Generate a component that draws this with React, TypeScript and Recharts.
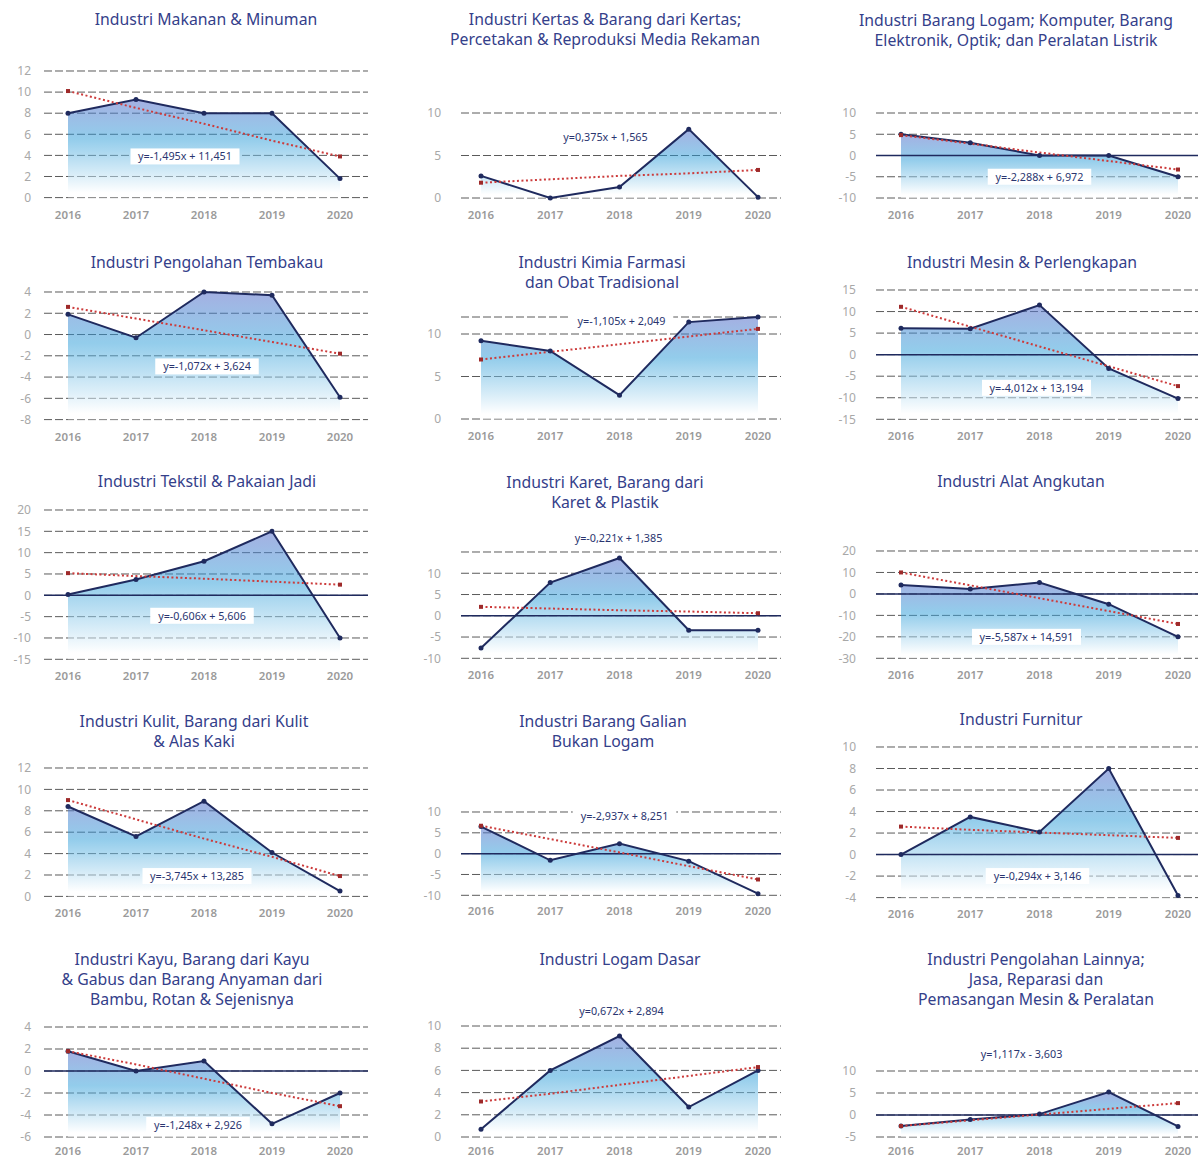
import React from 'react';
import { ComposedChart, Area, Line, XAxis, YAxis, CartesianGrid, ReferenceLine, ReferenceDot } from 'recharts';

const years = ['2016', '2017', '2018', '2019', '2020'];

const titles = [
  ['Industri Makanan & Minuman'],
  ['Industri Kertas & Barang dari Kertas;', 'Percetakan & Reproduksi Media Rekaman'],
  ['Industri Barang Logam; Komputer, Barang', 'Elektronik, Optik; dan Peralatan Listrik'],
  ['Industri Pengolahan Tembakau'],
  ['Industri Kimia Farmasi', 'dan Obat Tradisional'],
  ['Industri Mesin & Perlengkapan'],
  ['Industri Tekstil & Pakaian Jadi'],
  ['Industri Karet, Barang dari', 'Karet & Plastik'],
  ['Industri Alat Angkutan'],
  ['Industri Kulit, Barang dari Kulit', '& Alas Kaki'],
  ['Industri Barang Galian', 'Bukan Logam'],
  ['Industri Furnitur'],
  ['Industri Kayu, Barang dari Kayu', '& Gabus dan Barang Anyaman dari', 'Bambu, Rotan & Sejenisnya'],
  ['Industri Logam Dasar'],
  ['Industri Pengolahan Lainnya;', 'Jasa, Reparasi dan', 'Pemasangan Mesin & Peralatan'],
];

// pertumbuhan per tahun (%)
const growth = [
  [8, 9.3, 8, 8, 1.8],
  [2.6, 0, 1.3, 8.1, 0.1],
  [5, 3, 0, 0, -5],
  [1.9, -0.3, 4, 3.7, -5.9],
  [9.2, 8, 2.8, 11.4, 12],
  [6.1, 6, 11.5, -3.2, -10.2],
  [0.2, 3.7, 8, 15, -10],
  [-7.6, 7.8, 13.6, -3.4, -3.4],
  [4.2, 2.3, 5.3, -4.8, -20],
  [8.4, 5.6, 8.9, 4.1, 0.5],
  [6.5, -1.6, 2.4, -1.8, -9.6],
  [0, 3.5, 2.1, 8, -3.8],
  [1.8, 0, 0.9, -4.8, -2],
  [0.7, 6, 9.1, 2.7, 6],
  [-2.5, -1, 0.2, 5.2, -2.6],
];

// garis tren linear (titik)
const trends = [
  [10.1, 8.5, 7, 5.4, 3.9],
  [1.8, 2.2, 2.6, 2.9, 3.3],
  [4.8, 2.8, 0.7, -1.3, -3.3],
  [2.6, 1.5, 0.4, -0.7, -1.8],
  [7, 7.9, 8.8, 9.7, 10.6],
  [11.1, 6.5, 1.9, -2.7, -7.3],
  [5.2, 4.5, 3.9, 3.2, 2.5],
  [2.1, 1.7, 1.3, 1, 0.6],
  [10, 4, -2, -8, -14],
  [9, 7.2, 5.4, 3.7, 1.9],
  [6.7, 3.5, 0.3, -3, -6.2],
  [2.6, 2.3, 2.05, 1.8, 1.55],
  [1.8, 0.6, -0.7, -2, -3.2],
  [3.2, 3.9, 4.7, 5.5, 6.3],
  [-2.5, -1.2, 0.1, 1.4, 2.7],
];

const equations = [
  'y=-1,495x + 11,451',
  'y=0,375x + 1,565',
  'y=-2,288x + 6,972',
  'y=-1,072x + 3,624',
  'y=-1,105x + 2,049',
  'y=-4,012x + 13,194',
  'y=-0,606x + 5,606',
  'y=-0,221x + 1,385',
  'y=-5,587x + 14,591',
  'y=-3,745x + 13,285',
  'y=-2,937x + 8,251',
  'y=-0,294x + 3,146',
  'y=-1,248x + 2,926',
  'y=0,672x + 2,894',
  'y=1,117x - 3,603',
];

// letak label persamaan (kategori + nilai)
const equationAt = [
  { x: '2018', y: 3.9 }, { x: '2018', y: 7.2 }, { x: '2018', y: -5 },
  { x: '2018', y: -3 }, { x: '2018', y: 11.5 }, { x: '2018', y: -7.7 },
  { x: '2018', y: -4.8 }, { x: '2018', y: 18.2 }, { x: '2018', y: -20 },
  { x: '2018', y: 1.9 }, { x: '2018', y: 9 }, { x: '2018', y: -2 },
  { x: '2018', y: -4.9 }, { x: '2018', y: 11.3 }, { x: '2018', y: 13.9 },
];

const domains = [
  [0, 12], [0, 10], [-10, 10],
  [-8, 4], [0, 12], [-15, 15],
  [-15, 20], [-10, 15], [-30, 20],
  [0, 12], [-10, 10], [-4, 10],
  [-6, 4], [0, 10], [-5, 10],
];

const yTicks = [
  [0, 2, 4, 6, 8, 10, 12], [0, 5, 10], [-10, -5, 0, 5, 10],
  [-8, -6, -4, -2, 0, 2, 4], [0, 5, 10], [-15, -10, -5, 0, 5, 10, 15],
  [-15, -10, -5, 0, 5, 10, 15, 20], [-10, -5, 0, 5, 10], [-30, -20, -10, 0, 10, 20],
  [0, 2, 4, 6, 8, 10, 12], [-10, -5, 0, 5, 10], [-4, -2, 0, 2, 4, 6, 8, 10],
  [-6, -4, -2, 0, 2, 4], [0, 2, 4, 6, 8, 10], [-5, 0, 5, 10],
];

const zeroLine = [false, false, true, false, false, true, true, true, true, false, true, true, true, false, true];

// layout (px)
const columns = [
  { gridLeft: 44, gridRight: 368, padL: 24, padR: 28, tickMargin: 7 },
  { gridLeft: 461, gridRight: 781, padL: 20, padR: 23, tickMargin: 14 },
  { gridLeft: 876, gridRight: 1198, padL: 25, padR: 20, tickMargin: 14 },
];
const plotBox = [
  [70.7, 197.3], [113.3, 198.3], [113.3, 198.3],
  [291.7, 419.3], [317.3, 419.3], [290, 419.3],
  [510, 659.3], [552, 658.3], [551, 658.3],
  [768.3, 896.7], [811.7, 895], [746.7, 897.3],
  [1027, 1137], [1026, 1137], [1071, 1137],
];
const titleX = [206, 605, 1016, 207, 602, 1022, 207, 605, 1021, 194, 603, 1021, 192, 620, 1036];
const titleY = [20, 20, 21, 263, 263, 263, 482, 483, 482, 722, 722, 720, 960, 960, 960];
const eqDx = [-19, -14, 0, 3, 2, -3, -2, -1, -13, -7, 5, -2, -6, 2, -18];
const xTickGap = [7, 7, 7, 6, 4];

const NAVY = '#1f2a5e';
const FONT = "'Noto Sans', sans-serif";

const EqLabel = (props: any) => {
  const { cx, cy, text, dx } = props;
  const w = text.length * 5.5 + 10;
  return (
    <g>
      <rect x={cx + dx - w / 2} y={cy - 8} width={w} height={16} fill="#ffffff" />
      <text x={cx + dx} y={cy} dy="0.35em" textAnchor="middle" fontSize={10.8} fill="#2a3570" fontFamily={FONT}>{text}</text>
    </g>
  );
};

const trendDot = (props: any) => {
  const { cx, cy, index } = props;
  if (index === 0 || index === years.length - 1) {
    return <rect key={`td-${index}`} x={cx - 2} y={cy - 2} width={4} height={4} fill="#9e2a2a" />;
  }
  return <g key={`td-${index}`} />;
};

const Panel = ({ i }: { i: number }) => {
  const c = columns[i % 3];
  const row = Math.floor(i / 3);
  const [top, bottom] = plotBox[i];
  const data = years.map((year, k) => ({ year, value: growth[i][k], trend: trends[i][k] }));
  const marginTop = 40;
  const axisH = 26;
  const yW = 40;
  const width = c.gridRight - c.gridLeft + yW;
  const height = bottom - top + marginTop + axisH;
  const gid = `fill-${i}`;

  return (
    <>
      <div style={{ position: 'absolute', left: titleX[i] - 200, width: 400, top: titleY[i] - 11, textAlign: 'center', fontSize: 15.8, lineHeight: '20px', color: '#34408a', zIndex: 2 }}>
        {titles[i].map((t) => <div key={t}>{t}</div>)}
      </div>
      <div style={{ position: 'absolute', left: c.gridLeft - yW, top: top - marginTop }}>
        <ComposedChart width={width} height={height} data={data} margin={{ top: marginTop, right: 0, left: 0, bottom: 0 }}>
          <defs>
            <linearGradient id={gid} x1="0" y1="0" x2="0" y2="1">
              <stop offset="0%" stopColor="#5f74cc" stopOpacity={0.95} />
              <stop offset="40%" stopColor="#2b9cd8" stopOpacity={0.85} />
              <stop offset="95%" stopColor="#ffffff" stopOpacity={0.9} />
            </linearGradient>
          </defs>
          <CartesianGrid vertical={false} stroke="#5a5a5a" strokeDasharray="8 3" />
          <XAxis dataKey="year" axisLine={false} tickLine={false} height={axisH} interval={0}
            padding={{ left: c.padL, right: c.padR }} tickMargin={xTickGap[row]}
            tick={{ fill: '#9a9a9a', fontSize: 11.5, fontWeight: 600 }} />
          <YAxis type="number" domain={domains[i]} ticks={yTicks[i]} width={yW} axisLine={false} tickLine={false}
            tickMargin={c.tickMargin} interval={0} tick={{ fill: '#a8a8a8', fontSize: 12 }} />
          <Area dataKey="value" baseValue="dataMin" stroke="none" fill={`url(#${gid})`} isAnimationActive={false} />
          {zeroLine[i] && <ReferenceLine y={0} stroke={NAVY} strokeWidth={1.5} />}
          <Line dataKey="value" stroke={NAVY} strokeWidth={2} dot={{ r: 2.5, fill: NAVY, stroke: NAVY, strokeWidth: 0 }} activeDot={false} isAnimationActive={false} />
          <Line dataKey="trend" stroke="#cc3b3b" strokeWidth={2} strokeDasharray="2 2.5" dot={trendDot} activeDot={false} isAnimationActive={false} />
          <ReferenceDot x={equationAt[i].x} y={equationAt[i].y} r={0} ifOverflow="visible"
            shape={(p: any) => <EqLabel {...p} text={equations[i]} dx={eqDx[i]} />} />
        </ComposedChart>
      </div>
    </>
  );
};

export default function App() {
  return (
    <div style={{ position: 'absolute', left: 0, top: 0, width: 1200, height: 1159, background: '#ffffff', fontFamily: FONT, overflow: 'hidden' }}>
      {titles.map((_, i) => <Panel key={i} i={i} />)}
    </div>
  );
}
